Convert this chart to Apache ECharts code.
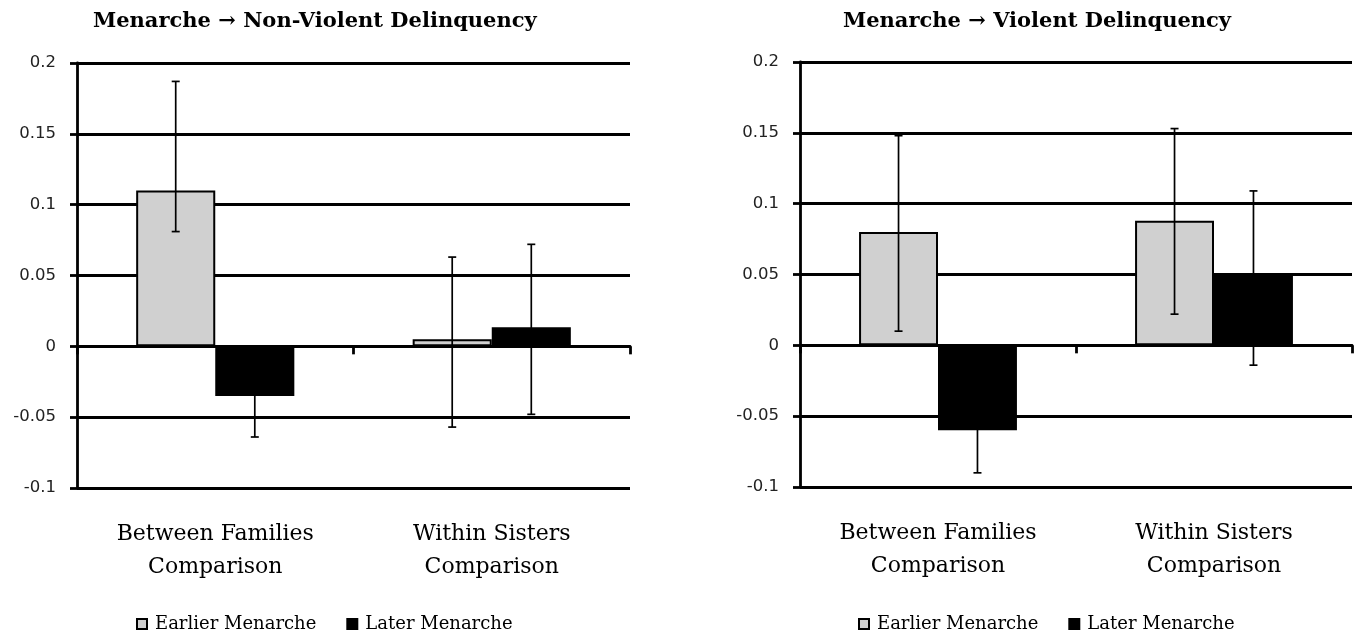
<!DOCTYPE html>
<html>
<head>
<meta charset="utf-8">
<script src="https://cdn.jsdelivr.net/npm/echarts@6/dist/echarts.min.js"></script>
<style>
html,body{margin:0;padding:0;background:#fff;}
#chart{width:1360px;height:639px;}
</style>
</head>
<body>
<div id="chart"></div>
<script>
// ---- Data ----
var categories = ['Between Families\nComparison', 'Within Sisters\nComparison'];
var seriesNames = ['Earlier Menarche', 'Later Menarche'];
var yTicks = { min: -0.1, max: 0.2, interval: 0.05 };

// Panel 1: Menarche -> Non-Violent Delinquency
var nvEarlier     = [0.110, 0.005];
var nvEarlierLow  = [0.081, -0.057];
var nvEarlierHigh = [0.187, 0.063];
var nvLater       = [-0.035, 0.0135];
var nvLaterLow    = [-0.064, -0.048];
var nvLaterHigh   = [-0.006, 0.072];

// Panel 2: Menarche -> Violent Delinquency
var vEarlier     = [0.080, 0.088];
var vEarlierLow  = [0.010, 0.022];
var vEarlierHigh = [0.148, 0.153];
var vLater       = [-0.060, 0.050];
var vLaterLow    = [-0.090, -0.014];
var vLaterHigh   = [-0.030, 0.109];

var titles = ['Menarche \u2192 Non-Violent Delinquency', 'Menarche \u2192 Violent Delinquency'];

// ---- Build ----
var BAR_FRAC = 0.286;
var serif = '"DejaVu Serif", serif';
var LW = 2.8;

function errSeries(name, xIdx, yIdx, low, high, side) {
  var data = low.map(function (l, i) { return [i, l, high[i]]; });
  return {
    type: 'custom', name: name, xAxisIndex: xIdx, yAxisIndex: yIdx, z: 5,
    data: data, silent: true,
    renderItem: function (params, api) {
      var i = api.value(0);
      var band = api.size([1, 0])[0];
      var off = side * band * BAR_FRAC / 2;
      var pLow = api.coord([i, api.value(1)]);
      var pHigh = api.coord([i, api.value(2)]);
      var x = pLow[0] + off;
      var cap = 4;
      var st = { stroke: '#000', lineWidth: 1.7 };
      return { type: 'group', children: [
        { type: 'line', shape: { x1: x, y1: pLow[1], x2: x, y2: pHigh[1] }, style: st },
        { type: 'line', shape: { x1: x - cap, y1: pLow[1], x2: x + cap, y2: pLow[1] }, style: st },
        { type: 'line', shape: { x1: x - cap, y1: pHigh[1], x2: x + cap, y2: pHigh[1] }, style: st }
      ]};
    }
  };
}

function barSeries(name, xIdx, yIdx, data, color) {
  return {
    type: 'bar', name: name, xAxisIndex: xIdx, yAxisIndex: yIdx,
    data: data, barWidth: (BAR_FRAC * 100) + '%', barGap: '0%',
    itemStyle: { color: color, borderColor: '#000', borderWidth: 2 },
    emphasis: { disabled: true }
  };
}

var grids = [
  { left: 77, right: 730, top: 63, bottom: 151, containLabel: false, outerBoundsMode: 'none' },
  { left: 800, right: 8, top: 62, bottom: 152, containLabel: false, outerBoundsMode: 'none' }
];

var xAxes = [];
grids.forEach(function (g, i) {
  // axis drawn at zero (bars), ticks pointing down
  xAxes.push({
    type: 'category', gridIndex: i, data: categories, position: 'top',
    axisLine: { onZero: true, lineStyle: { color: '#000', width: LW } },
    axisTick: { show: true, inside: true, length: 8, lineStyle: { color: '#000', width: LW } },
    axisLabel: { show: false }
  });
  // label-only axis at bottom of grid
  xAxes.push({
    type: 'category', gridIndex: i, data: categories, position: 'bottom',
    axisLine: { show: false, onZero: false }, axisTick: { show: false },
    axisLabel: { show: true, interval: 0, margin: 30, color: '#000',
      fontFamily: serif, fontSize: 22, lineHeight: 33 }
  });
});

var yAxes = grids.map(function (g, i) {
  return {
    type: 'value', gridIndex: i, min: yTicks.min, max: yTicks.max, interval: yTicks.interval,
    axisLine: { show: true, lineStyle: { color: '#000', width: LW } },
    axisTick: { show: true, length: 7, lineStyle: { color: '#000', width: LW } },
    splitLine: { show: true, lineStyle: { color: '#000', width: LW } },
    axisLabel: { margin: 21, color: '#222', fontFamily: '"DejaVu Sans", Verdana, sans-serif', fontSize: 16.5,
      formatter: function (v) { return String(Math.round(v * 1000) / 1000); } }
  };
});

function legendAt(left) {
  return { data: seriesNames, left: left, top: 610, itemWidth: 10, itemHeight: 10, itemGap: 30, icon: 'rect',
    textStyle: { fontFamily: serif, fontSize: 18, color: '#000', padding: [0, 0, 0, 3] }, selectedMode: false };
}

var option = {
  animation: false,
  backgroundColor: '#fff',
  title: [
    { text: titles[0], left: 88, top: 6, textStyle: { fontFamily: serif, fontWeight: 'bold', fontSize: 21, color: '#000' } },
    { text: titles[1], left: 838, top: 6, textStyle: { fontFamily: serif, fontWeight: 'bold', fontSize: 21, color: '#000' } }
  ],
  legend: [legendAt(131), legendAt(853)],
  grid: grids,
  xAxis: xAxes,
  yAxis: yAxes,
  series: [
    barSeries(seriesNames[0], 0, 0, nvEarlier, '#d0d0d0'),
    barSeries(seriesNames[1], 0, 0, nvLater, '#000'),
    errSeries('err1', 0, 0, nvEarlierLow, nvEarlierHigh, -1),
    errSeries('err2', 0, 0, nvLaterLow, nvLaterHigh, 1),
    barSeries(seriesNames[0], 2, 1, vEarlier, '#d0d0d0'),
    barSeries(seriesNames[1], 2, 1, vLater, '#000'),
    errSeries('err3', 2, 1, vEarlierLow, vEarlierHigh, -1),
    errSeries('err4', 2, 1, vLaterLow, vLaterHigh, 1)
  ]
};

var chart = echarts.init(document.getElementById('chart'), null, { renderer: 'canvas' });
chart.setOption(option);
</script>
</body>
</html>
